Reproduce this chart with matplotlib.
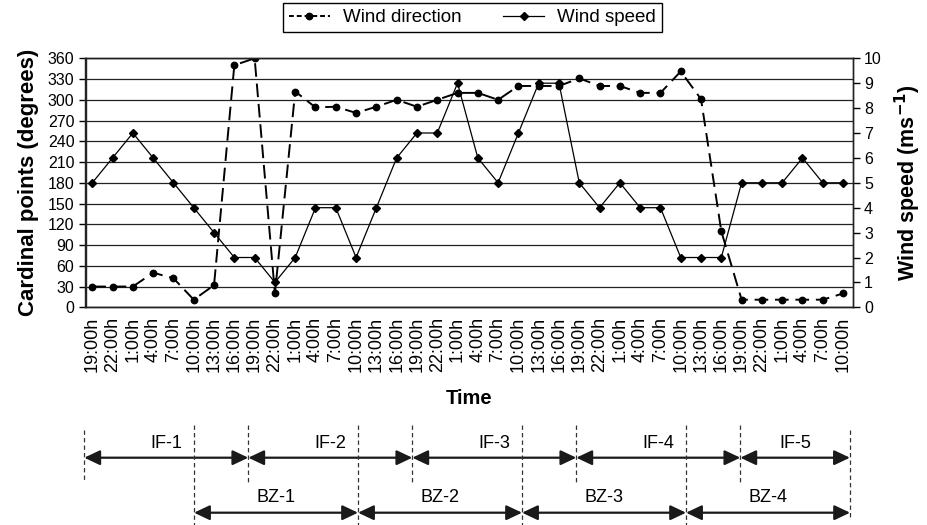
import matplotlib
matplotlib.use("Agg")
import matplotlib.pyplot as plt
import matplotlib.transforms as mtransforms
from matplotlib.patches import FancyArrowPatch
from matplotlib.lines import Line2D

plt.rcParams["font.family"] = ["Liberation Sans", "DejaVu Sans"]
NARROW = ["Liberation Sans Narrow", "Liberation Sans", "DejaVu Sans"]

# data
times = ["19:00h", "22:00h", "1:00h", "4:00h", "7:00h", "10:00h", "13:00h", "16:00h",
         "19:00h", "22:00h", "1:00h", "4:00h", "7:00h", "10:00h", "13:00h", "16:00h",
         "19:00h", "22:00h", "1:00h", "4:00h", "7:00h", "10:00h", "13:00h", "16:00h",
         "19:00h", "22:00h", "1:00h", "4:00h", "7:00h", "10:00h", "13:00h", "16:00h",
         "19:00h", "22:00h", "1:00h", "4:00h", "7:00h", "10:00h"]
wind_direction = [30, 30, 30, 50, 42, 11, 32, 350, 360, 20, 312, 289, 290, 281, 290, 300,
                  290, 300, 310, 310, 300, 320, 320, 320, 331, 320, 320, 310, 310, 341,
                  301, 110, 11, 11, 11, 11, 11, 20]
wind_speed = [5, 6, 7, 6, 5, 4, 3, 2, 2, 1, 2, 4, 4, 2, 4, 6, 7, 7, 9, 6, 5, 7, 9, 9,
              5, 4, 5, 4, 4, 2, 2, 2, 5, 5, 5, 6, 5, 5]
deg_ticks = list(range(0, 361, 30))
speed_ticks = list(range(0, 11))
if_labels = ["IF-1", "IF-2", "IF-3", "IF-4", "IF-5"]
bz_labels = ["BZ-1", "BZ-2", "BZ-3", "BZ-4"]

W, H = 927, 525
fig = plt.figure(figsize=(W / 100, H / 100), dpi=100)
ax = fig.add_axes([85.5 / W, 1 - 307.3 / H, 767.5 / W, 249 / H])
ax2 = ax.twinx()

x = list(range(len(times)))
dir_line, = ax.plot(x, wind_direction, color="black", lw=1.4, dashes=(7, 3.5),
                    marker="o", ms=4.6, label="Wind direction")
spd_line, = ax2.plot(x, wind_speed, color="black", lw=0.9,
                     marker="D", ms=4, label="Wind speed")

ax.set_xlim(-0.335, len(times) - 0.51)
ax.set_ylim(0, 360)
ax.set_yticks(deg_ticks)
ax2.set_ylim(0, 10)
ax2.set_yticks(speed_ticks)
ax.set_xticks(x)
ax.set_xticklabels(times, rotation=90, fontsize=13)
ax.tick_params(axis="x", length=0, pad=7)
ax.tick_params(axis="y", length=5, width=1, labelsize=11.5, pad=3)
ax2.tick_params(axis="y", length=5, width=1, labelsize=11.5, pad=3)
for lab in ax.get_yticklabels() + ax2.get_yticklabels():
    lab.set_family(NARROW)

ax.grid(axis="y", color="#222222", lw=0.9)
ax.set_axisbelow(True)
for a in (ax, ax2):
    for s in a.spines.values():
        s.set_linewidth(1.0)
        s.set_color("#222222")

ax.set_ylabel("Cardinal points (degrees)", fontsize=16, fontweight="bold", labelpad=6)
ax2.set_ylabel("Wind speed (ms$^{\\mathbf{-1}}$)", fontsize=15.5, fontweight="bold",
               labelpad=8)
ax.set_xlabel("Time", fontsize=14.5, fontweight="bold", family=NARROW, labelpad=12)

leg = fig.legend(handles=[dir_line, spd_line], loc="center", ncol=2,
                 bbox_to_anchor=(472.5 / W, 1 - 17.5 / H), fontsize=13.5,
                 frameon=True, fancybox=False, edgecolor="black", framealpha=1,
                 handlelength=2.2, columnspacing=2.2, borderpad=0.3, handletextpad=0.7)
leg.get_lines()[0].set_dashes((2.5, 1.5))

# period annotations below the chart
trans = mtransforms.blended_transform_factory(ax.transAxes, fig.transFigure)


def fy(px):
    return 1 - px / H


step = 0.2137
if_edges = [-0.0016 + i * step for i in range(5)] + [0.996]
bz_edges = [0.1414 + i * step for i in range(5)]


def vline(xf, top, bottom):
    fig.add_artist(Line2D([xf, xf], [fy(top), fy(bottom)], transform=trans,
                          color="#333333", lw=0.9, dashes=(3.5, 2.5)))


def arrow(x0, x1, y):
    fig.add_artist(FancyArrowPatch((x0, fy(y)), (x1, fy(y)), transform=trans,
                                   arrowstyle="<|-|>,head_length=0.95,head_width=0.45",
                                   mutation_scale=10, color="#1a1a1a", lw=1.6,
                                   shrinkA=0, shrinkB=0))


vline(if_edges[0], 430, 482)
vline(if_edges[-1], 430, 520)
for xe in if_edges[1:-1]:
    vline(xe, 425, 484)
for xe in bz_edges[:-1]:
    vline(xe, 425, 525)

for i, lab in enumerate(if_labels):
    arrow(if_edges[i], if_edges[i + 1], 457.7)
    fig.text((if_edges[i] + if_edges[i + 1]) / 2, fy(443), lab, transform=trans,
             ha="center", va="center", fontsize=13)
for i, lab in enumerate(bz_labels):
    arrow(bz_edges[i], bz_edges[i + 1], 512.7)
    fig.text((bz_edges[i] + bz_edges[i + 1]) / 2, fy(498), lab, transform=trans,
             ha="center", va="center", fontsize=13)

fig.savefig("out.png", dpi=100)
